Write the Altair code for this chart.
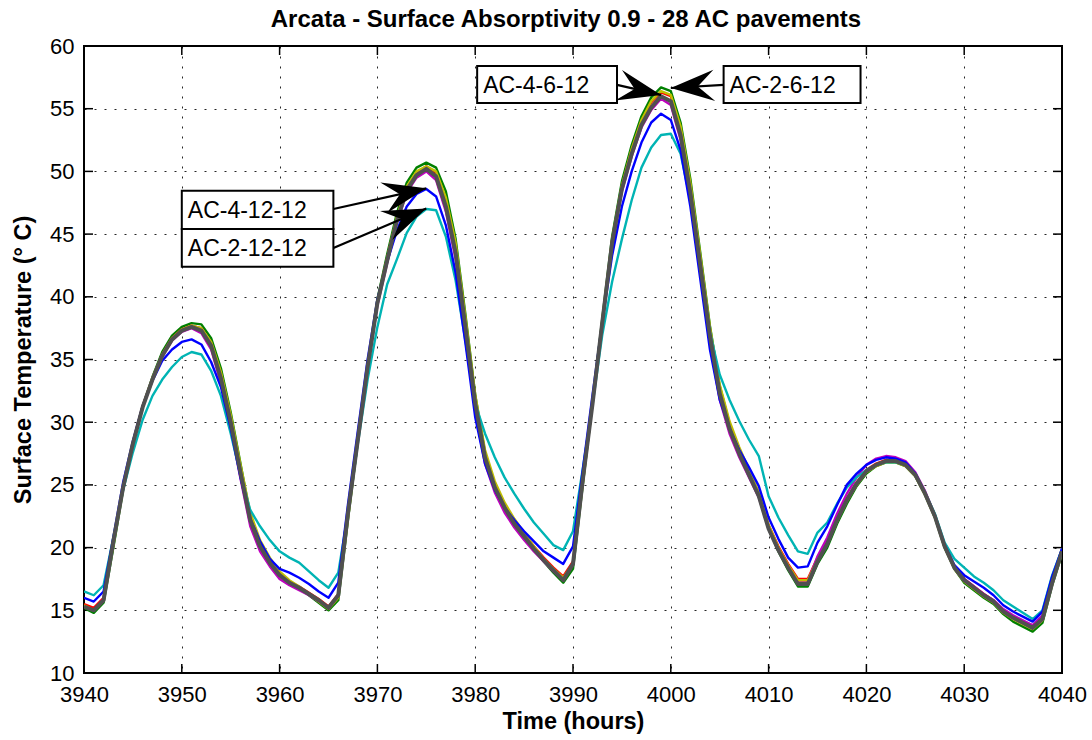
import math
import altair as alt
import pandas as pd

# ---------------- data ----------------
hours = list(range(3940, 4041))

gray = [15.3, 15.0, 15.8, 20.5, 24.8, 28.3, 31.2, 33.4, 35.3, 36.6,
        37.3, 37.6, 37.3, 36.1, 33.5, 30.0, 26.0, 22.2, 20.1, 18.8,
        17.8, 17.2, 16.8, 16.3, 15.8, 15.2, 16.2, 22.8, 28.6, 34.4,
        39.5, 42.9, 46.1, 48.5, 49.7, 50.2, 49.6, 47.2, 43.5, 37.6,
        31.5, 27.2, 24.8, 23.2, 21.9, 20.9, 19.9, 19.0, 18.2, 17.4,
        18.7, 25.4, 31.5, 38.0, 44.3, 48.6, 51.4, 53.7, 55.1, 56.0,
        55.6, 52.9, 48.3, 42.6, 36.9, 32.3, 29.5, 27.5, 25.8, 24.1,
        21.5, 19.8, 18.4, 17.1, 17.1, 18.9, 20.3, 22.2, 23.8, 25.1,
        26.1, 26.6, 26.9, 26.9, 26.6, 25.8, 24.3, 22.5, 20.1, 18.4,
        17.4, 16.8, 16.2, 15.7, 14.9, 14.4, 14.0, 13.6, 14.3, 17.2,
        19.7]

green = [15.2, 14.8, 15.6, 20.0, 24.6, 28.3, 31.3, 33.6, 35.6, 36.9,
         37.6, 37.9, 37.8, 36.7, 34.3, 30.8, 26.7, 22.6, 20.4, 19.0,
         17.9, 17.2, 16.8, 16.2, 15.6, 15.0, 15.8, 22.3, 28.5, 34.5,
         39.8, 43.4, 46.7, 49.1, 50.3, 50.7, 50.3, 48.4, 44.6, 38.6,
         32.2, 27.6, 25.0, 23.3, 22.0, 20.9, 19.9, 18.9, 18.0, 17.2,
         18.3, 25.0, 31.6, 38.3, 44.8, 49.2, 52.1, 54.4, 55.9, 56.7,
         56.4, 53.9, 49.4, 43.6, 37.7, 32.9, 29.9, 27.8, 26.0, 24.2,
         21.5, 19.7, 18.2, 16.9, 16.9, 18.7, 20.0, 21.9, 23.5, 24.9,
         25.9, 26.5, 26.8, 26.8, 26.5, 25.7, 24.2, 22.4, 20.0, 18.3,
         17.2, 16.6, 16.0, 15.5, 14.7, 14.1, 13.7, 13.3, 14.0, 17.0,
         19.5]

red = [15.5, 15.2, 16.0, 20.4, 24.9, 28.4, 31.3, 33.5, 35.4, 36.7,
       37.4, 37.7, 37.5, 36.3, 33.8, 30.3, 26.2, 22.3, 20.2, 18.9,
       17.9, 17.3, 16.9, 16.4, 15.9, 15.3, 16.3, 22.8, 28.7, 34.5,
       39.6, 43.1, 46.3, 48.7, 49.9, 50.4, 49.9, 47.6, 43.9, 38.0,
       31.8, 27.4, 25.0, 23.4, 22.1, 21.1, 20.1, 19.2, 18.4, 17.7,
       18.9, 25.3, 31.6, 38.1, 44.5, 48.8, 51.7, 54.0, 55.5, 56.3,
       56.0, 53.3, 48.7, 43.0, 37.2, 32.6, 29.8, 27.7, 26.0, 24.3,
       21.8, 20.1, 18.7, 17.5, 17.5, 19.2, 20.5, 22.3, 23.9, 25.2,
       26.2, 26.7, 27.0, 27.0, 26.7, 25.9, 24.4, 22.6, 20.2, 18.5,
       17.5, 16.9, 16.3, 15.8, 15.0, 14.5, 14.1, 13.8, 14.5, 17.4,
       19.8]

magenta = [15.3, 15.0, 15.9, 20.4, 24.9, 28.3, 31.2, 33.4, 35.2, 36.5,
           37.2, 37.5, 37.1, 35.8, 33.1, 29.5, 25.5, 21.7, 19.7, 18.5,
           17.5, 17.0, 16.6, 16.2, 15.7, 15.2, 16.2, 22.8, 28.6, 34.3,
           39.3, 42.7, 45.9, 48.3, 49.5, 50.0, 49.3, 46.8, 43.0, 37.0,
           30.9, 26.7, 24.4, 22.8, 21.6, 20.6, 19.7, 18.9, 18.1, 17.4,
           18.7, 25.3, 31.5, 37.9, 44.1, 48.4, 51.2, 53.5, 54.9, 55.8,
           55.3, 52.5, 47.8, 42.0, 36.3, 31.8, 29.1, 27.2, 25.6, 24.0,
           21.5, 19.8, 18.5, 17.3, 17.3, 19.3, 20.8, 22.7, 24.3, 25.6,
           26.6, 27.1, 27.3, 27.2, 26.9, 26.0, 24.5, 22.6, 20.2, 18.5,
           17.5, 16.9, 16.3, 15.8, 15.1, 14.6, 14.2, 13.8, 14.6, 17.5,
           19.9]

yellow = [15.4, 15.0, 15.8, 20.2, 24.7, 28.3, 31.2, 33.5, 35.4, 36.7,
          37.4, 37.7, 37.5, 36.4, 34.0, 30.6, 26.6, 22.8, 20.6, 19.2,
          18.1, 17.4, 16.9, 16.3, 15.7, 15.1, 16.0, 22.4, 28.5, 34.4,
          39.6, 43.1, 46.4, 48.8, 50.0, 50.4, 50.0, 47.9, 44.3, 38.4,
          32.2, 27.8, 25.3, 23.6, 22.3, 21.2, 20.1, 19.1, 18.3, 17.6,
          18.7, 25.1, 31.5, 38.1, 44.5, 48.9, 51.8, 54.1, 55.6, 56.4,
          56.1, 53.6, 49.1, 43.4, 37.6, 33.0, 30.1, 28.0, 26.2, 24.4,
          21.8, 20.0, 18.6, 17.4, 17.4, 19.0, 20.3, 22.1, 23.7, 25.0,
          26.0, 26.5, 26.8, 26.8, 26.5, 25.7, 24.2, 22.4, 20.0, 18.3,
          17.3, 16.7, 16.1, 15.6, 14.8, 14.3, 13.9, 13.5, 14.2, 17.1,
          19.6]

# AC-4-12-12
blue = [16.0, 15.7, 16.5, 20.8, 25.2, 28.5, 31.3, 33.3, 34.9, 35.8,
        36.4, 36.6, 36.2, 34.8, 32.8, 29.5, 25.6, 22.3, 20.5, 19.1,
        18.3, 18.0, 17.6, 17.1, 16.5, 16.0, 17.2, 23.5, 29.3, 35.0,
        39.8, 42.8, 45.3, 47.2, 48.2, 48.6, 48.0, 45.7, 41.9, 36.3,
        30.4, 26.7, 24.6, 23.2, 22.2, 21.3, 20.5, 19.7, 19.2, 18.7,
        20.1, 26.2, 32.2, 38.0, 43.3, 47.2, 50.0, 52.3, 53.9, 54.6,
        54.1, 51.7, 47.2, 41.5, 35.8, 31.8, 29.5, 27.8, 26.4, 24.9,
        22.4, 20.7, 19.2, 18.4, 18.5, 20.4, 21.7, 23.4, 25.0, 25.9,
        26.6, 27.0, 27.2, 27.1, 26.8, 25.9, 24.3, 22.5, 20.2, 18.6,
        17.8, 17.3, 16.8, 16.2, 15.4, 14.9, 14.5, 14.1, 14.9, 17.7,
        19.9]

# AC-2-12-12
cyan = [16.5, 16.2, 17.0, 20.8, 24.6, 27.6, 30.2, 32.1, 33.4, 34.4,
        35.2, 35.6, 35.4, 34.1, 32.1, 29.1, 25.8, 23.0, 21.7, 20.6,
        19.7, 19.2, 18.8, 18.1, 17.4, 16.8, 18.0, 22.8, 28.3, 33.4,
        37.6, 41.0, 43.0, 45.1, 46.4, 47.0, 46.9, 44.8, 41.3, 36.5,
        31.5, 29.1, 27.2, 25.6, 24.3, 23.1, 22.0, 21.1, 20.2, 19.8,
        21.3, 26.3, 31.4, 37.0, 41.2, 44.6, 47.7, 50.3, 51.9, 52.9,
        53.0, 51.4, 47.7, 42.6, 37.2, 33.8, 31.8, 30.1, 28.6, 27.3,
        24.1, 22.4, 21.0, 19.7, 19.5, 21.2, 22.0, 23.5, 24.8, 25.6,
        26.2, 26.6, 26.8, 26.8, 26.6, 25.9, 24.4, 22.7, 20.4, 19.1,
        18.4, 17.7, 17.2, 16.6, 15.8, 15.3, 14.8, 14.3, 15.0, 17.8,
        19.9]

x_ticks = list(range(3940, 4041, 10))
y_ticks = list(range(10, 61, 5))

title_text = "Arcata - Surface Absorptivity 0.9 - 28 AC pavements"

ann_labels = ["AC-4-12-12", "AC-2-12-12", "AC-4-6-12", "AC-2-6-12"]
box_x0 = [3950.0, 3950.0, 3980.2, 4005.4]
box_x1 = [3965.5, 3965.5, 3994.5, 4019.4]
box_y0 = [45.4, 42.4, 55.45, 55.45]
box_y1 = [48.45, 45.4, 58.4, 58.4]
arr_x0 = [3965.5, 3965.5, 3994.5, 4005.4]
arr_y0 = [47.0, 43.9, 56.9, 56.9]
arr_x1 = [3975.0, 3975.0, 3999.0, 4000.0]
arr_y1 = [48.65, 47.05, 56.1, 56.65]

# ---------------- layout ----------------
W, H = 978, 627
XMIN, XMAX = 3940, 4040
YMIN, YMAX = 10, 60
FONT = "Liberation Sans"

xscale = alt.Scale(domain=[XMIN, XMAX], nice=False, zero=False)
yscale = alt.Scale(domain=[YMIN, YMAX], nice=False, zero=False)

series = [
    ("green", green, "#008000", 2.4),
    ("red", red, "#ff0000", 2.4),
    ("magenta", magenta, "#bf00bf", 2.4),
    ("yellow", yellow, "#bfbf00", 2.4),
    ("cyan", cyan, "#00b4b4", 2.4),
    ("blue", blue, "#0000ff", 2.4),
    ("gray", gray, "#505050", 4.0),
]

layers = []

# inward tick marks on all four sides
xt = pd.DataFrame({"t": x_ticks})
yt = pd.DataFrame({"v": y_ticks})
tick_style = dict(color="black", strokeWidth=1.5)
layers.append(alt.Chart(xt).mark_rule(**tick_style).encode(
    x=alt.X("t:Q", scale=xscale,
            axis=alt.Axis(values=x_ticks, format="d", title="Time (hours)",
                          grid=True, ticks=False, tickSize=0, domain=False,
                          labelFlush=False, labelOverlap=False,
                          labelPadding=11, titlePadding=4)),
    y=alt.value(H), y2=alt.value(H - 9)))
layers.append(alt.Chart(xt).mark_rule(**tick_style).encode(
    x=alt.X("t:Q", scale=xscale), y=alt.value(0), y2=alt.value(9)))
layers.append(alt.Chart(yt).mark_rule(**tick_style).encode(
    y=alt.Y("v:Q", scale=yscale,
            axis=alt.Axis(values=y_ticks, format="d",
                          title="Surface Temperature (° C)",
                          grid=True, ticks=False, tickSize=0, domain=False,
                          labelFlush=False, labelOverlap=False,
                          labelPadding=10, titlePadding=14)),
    x=alt.value(0), x2=alt.value(9)))
layers.append(alt.Chart(yt).mark_rule(**tick_style).encode(
    y=alt.Y("v:Q", scale=yscale), x=alt.value(W), x2=alt.value(W - 9)))

for name, vals, col, sw in series:
    d = pd.DataFrame({"hour": hours, "temp": vals})
    layers.append(alt.Chart(d).mark_line(color=col, strokeWidth=sw,
                                         strokeJoin="round", clip=True).encode(
        x=alt.X("hour:Q", scale=xscale),
        y=alt.Y("temp:Q", scale=yscale)))

# annotations
ann = pd.DataFrame({
    "label": ann_labels, "bx0": box_x0, "bx1": box_x1,
    "by0": box_y0, "by1": box_y1,
    "ax0": arr_x0, "ay0": arr_y0, "ax1": arr_x1, "ay1": arr_y1,
})
ann["bym"] = (ann["by0"] + ann["by1"]) / 2
pxx = W / (XMAX - XMIN)
pxy = H / (YMAX - YMIN)
ann["angle"] = [
    math.degrees(math.atan2(-(r.ay1 - r.ay0) * pxy, (r.ax1 - r.ax0) * pxx)) % 360
    for r in ann.itertuples()
]

layers.append(alt.Chart(ann).mark_rule(color="black", strokeWidth=2.2).encode(
    x=alt.X("ax0:Q", scale=xscale), x2="ax1:Q",
    y=alt.Y("ay0:Q", scale=yscale), y2="ay1:Q"))

head = "M0,0 L-1,-0.36 L-0.62,0 L-1,0.36 Z"
layers.append(alt.Chart(ann).mark_point(shape=head, filled=True, color="black",
                                        opacity=1, size=7600, strokeWidth=0).encode(
    x=alt.X("ax1:Q", scale=xscale),
    y=alt.Y("ay1:Q", scale=yscale),
    angle=alt.Angle("angle:Q", scale=None)))

layers.append(alt.Chart(ann).mark_rect(fill="white", stroke="black",
                                       strokeWidth=2).encode(
    x=alt.X("bx0:Q", scale=xscale), x2="bx1:Q",
    y=alt.Y("by0:Q", scale=yscale), y2="by1:Q"))
layers.append(alt.Chart(ann).mark_text(align="left", baseline="middle", dx=6,
                                       dy=1, font=FONT, fontSize=23,
                                       color="black").encode(
    x=alt.X("bx0:Q", scale=xscale),
    y=alt.Y("bym:Q", scale=yscale),
    text="label:N"))

# chart title drawn as a text mark above the plot
layers.append(alt.Chart(pd.DataFrame({"t": [title_text]})).mark_text(
    align="center", baseline="alphabetic", font=FONT, fontSize=24,
    fontWeight="bold", color="black").encode(
    x=alt.value(W / 2 - 7), y=alt.value(-19), text="t:N"))

chart = alt.layer(*layers).properties(
    width=W, height=H,
    padding={"left": 84, "top": 46, "right": 30, "bottom": 67},
    autosize="none",
    background="white",
).configure_view(
    stroke="black", strokeWidth=2,
).configure_axis(
    labelFont=FONT, labelFontSize=22, labelColor="black",
    titleFont=FONT, titleFontSize=23.5, titleFontWeight="bold",
    titleColor="black",
    gridColor="black", gridDash=[2, 8], gridWidth=1, gridOpacity=0.85,
)

chart.save("out.html", embed_options={"renderer": "svg", "actions": False})
